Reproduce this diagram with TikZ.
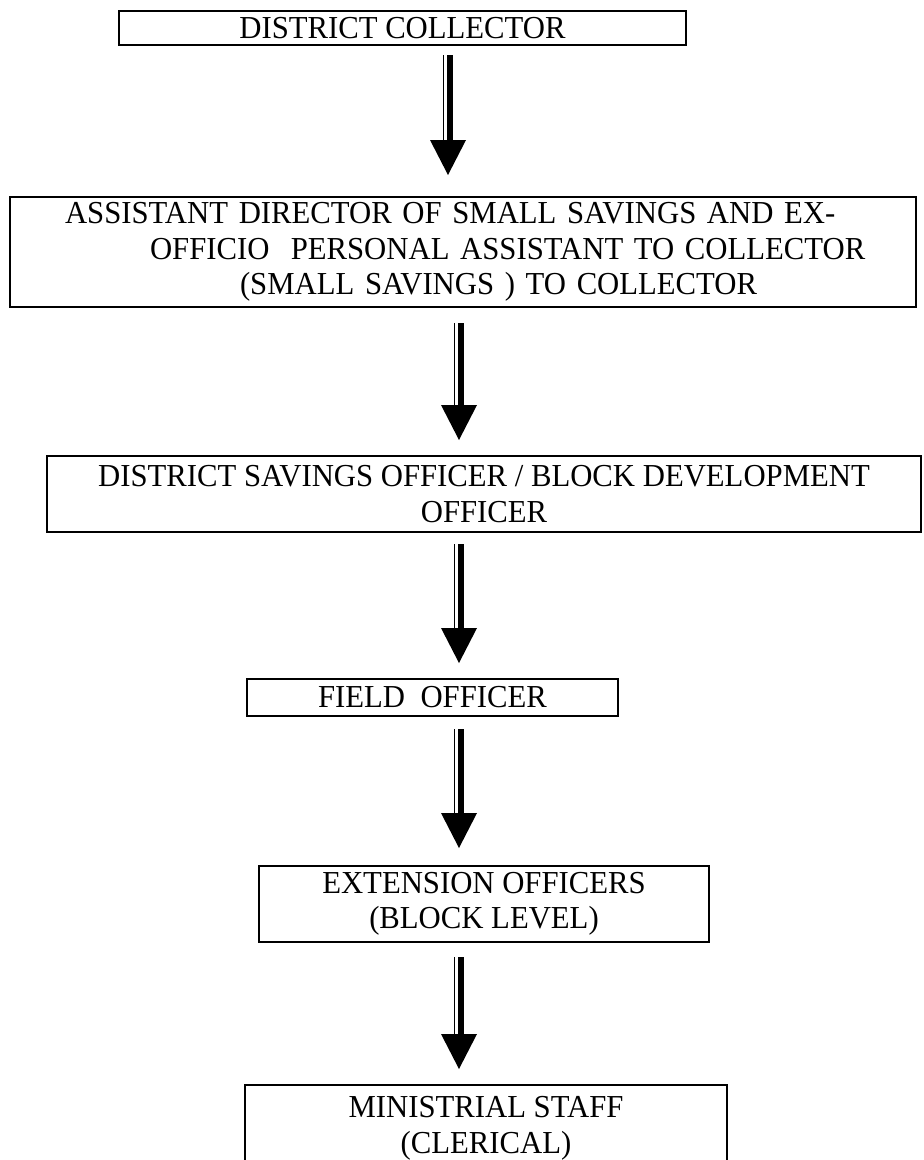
\documentclass[tikz,border=0pt]{standalone}
\usepackage{fontspec}
\setmainfont{Liberation Serif}[FakeStretch=0.96]
\usetikzlibrary{calc}
\newcommand{\chartfont}{\fontsize{32}{35.5}\selectfont}
\tikzset{
  box/.style={draw, line width=2pt, inner sep=0pt, font=\chartfont, align=center},
  thinshaft/.style={line width=1.5pt},
  thickshaft/.style={line width=6.5pt},
  headfill/.style={fill=black}
}
% #1 from node, #2 to node, #3 x of arrow, #4 gap below #1, #5 gap from tip to #2
\newcommand{\flowarrow}[5]{%
  \draw[thinshaft] let \p1=(#1.south), \p2=(#2.north) in (#3-4.7pt,\y1-#4) -- (#3-4.7pt,\y2+#5+33pt);
  \draw[thickshaft] let \p1=(#1.south), \p2=(#2.north) in (#3+1.8pt,\y1-#4) -- (#3+1.8pt,\y2+#5+33pt);
  \fill[headfill] let \p2=(#2.north) in (#3-18pt,\y2+#5+35pt) -- (#3+18pt,\y2+#5+35pt) -- (#3,\y2+#5) -- cycle;
}
\begin{document}
\begin{tikzpicture}[x=1pt,y=-1pt]
\useasboundingbox[fill=white] (0,0) rectangle (924,1160);
\node[box, minimum width=567pt, minimum height=34pt] (n1) at (402.5,28) {DISTRICT COLLECTOR};
\node[box, minimum width=906pt, minimum height=110pt, text width=850pt, inner xsep=28pt, align=left] (n2) at (463,252)
  {\hspace*{27pt}ASSISTANT DIRECTOR OF SMALL SAVINGS AND EX-\\\hspace*{112pt}OFFICIO~ PERSONAL ASSISTANT TO COLLECTOR\\\hspace*{202pt}(SMALL SAVINGS ) TO COLLECTOR};
\node[box, minimum width=874pt, minimum height=76pt] (n3) at (484,494) {DISTRICT SAVINGS OFFICER / BLOCK DEVELOPMENT\\OFFICER};
\node[box, minimum width=371pt, minimum height=37pt] (n4) at (432.5,697.5) {FIELD~ OFFICER};
\node[box, minimum width=450pt, minimum height=76pt] (n5) at (484,904) {EXTENSION OFFICERS\\(BLOCK LEVEL)};
\node[box, minimum width=482pt, minimum height=87pt] (n6) at (486,1128.5) {MINISTRIAL STAFF\\(CLERICAL)};
\flowarrow{n1}{n2}{448pt}{9pt}{21pt}
\flowarrow{n2}{n3}{459pt}{15pt}{15pt}
\flowarrow{n3}{n4}{459pt}{11pt}{15pt}
\flowarrow{n4}{n5}{459pt}{12pt}{17pt}
\flowarrow{n5}{n6}{459pt}{14pt}{15pt}
\end{tikzpicture}
\end{document}
